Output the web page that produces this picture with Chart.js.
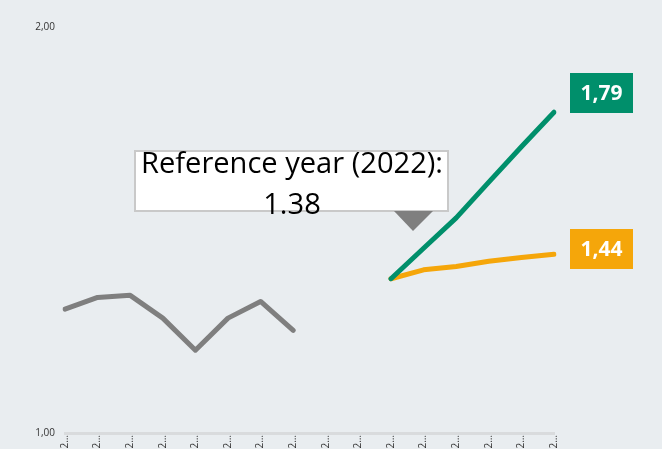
<!DOCTYPE html>
<html>
<head>
<meta charset="utf-8">
<script src="https://cdn.jsdelivr.net/npm/chart.js@4.4.1/dist/chart.umd.min.js"></script>
<style>
    html, body { margin: 0; padding: 0; background: #e9edf0; overflow: hidden; }
    #wrap { width: 662px; height: 449px; position: relative; }
</style>
</head>
<body>
<div id="wrap"><canvas id="chart"></canvas></div>
<script>
// Years on the x axis (shown truncated, as in the original)
const years = ['2012', '2013', '2014', '2015', '2016', '2017', '2018', '2019',
    '2020', '2021', '2022', '2023', '2024', '2025', '2026', '2027'];

// Historical values
const historical = [1.305, 1.334, 1.339, 1.283, 1.204, 1.283, 1.324, 1.253,
    null, null, null, null, null, null, null, null];

// Projections from the reference year
const projectionHigh = [null, null, null, null, null, null, null, null,
    null, null, 1.38, 1.455, 1.53, 1.618, 1.705, 1.79];
const projectionLow = [null, null, null, null, null, null, null, null,
    null, null, 1.38, 1.402, 1.41, 1.423, 1.432, 1.44];

const yTicks = [1, 2];
const referenceYear = '2022';
const referenceValue = 1.38;

const GREEN = '#008f6b';
const ORANGE = '#f5a60a';
const GREY = '#7f7f7f';

const fmt = v => v.toFixed(2).replace('.', ',');

// Draws the reference-year callout and the end value labels
const calloutPlugin = {
    id: 'callouts',
    afterDraw(chart) {
        const ctx = chart.ctx;
        const x = chart.scales.x;

        // Reference year box
        const refX = x.getPixelForValue(years.indexOf(referenceYear));
        ctx.save();
        ctx.fillStyle = '#ffffff';
        ctx.strokeStyle = '#c9c9c9';
        ctx.lineWidth = 2;
        ctx.fillRect(135, 151, 313, 60);
        ctx.strokeRect(135, 151, 313, 60);

        ctx.fillStyle = GREY;
        ctx.beginPath();
        ctx.moveTo(refX + 3, 211);
        ctx.lineTo(refX + 42, 211);
        ctx.lineTo(refX + 22, 231);
        ctx.closePath();
        ctx.fill();

        ctx.fillStyle = '#000000';
        ctx.font = '30px "Open Sans", "Liberation Sans", sans-serif';
        ctx.textAlign = 'center';
        ctx.textBaseline = 'alphabetic';
        const line1 = 'Reference year (' + referenceYear + '):';
        // squeeze horizontally to the narrow look of the original font
        const w = ctx.measureText(line1).width;
        const sx = Math.min(1, 302 / w);
        ctx.save();
        ctx.translate(292, 0);
        ctx.scale(sx, 1);
        ctx.fillText(line1, 0, 173);
        ctx.fillText(String(referenceValue), 0, 214);
        ctx.restore();

        // End value labels
        const last = years.length - 1;
        const labels = [
            { v: projectionHigh[last], color: GREEN, top: 73 },
            { v: projectionLow[last], color: ORANGE, top: 229 },
        ];
        const lx = x.getPixelForValue(last) + 16;
        ctx.font = 'bold 21px "Open Sans", "Liberation Sans", sans-serif';
        ctx.textBaseline = 'middle';
        labels.forEach(l => {
            ctx.fillStyle = l.color;
            ctx.fillRect(lx, l.top, 63, 40);
            ctx.fillStyle = '#ffffff';
            ctx.fillText(fmt(l.v), lx + 31.5, l.top + 21);
        });
        ctx.restore();
    },
};

const lineStyle = {
    borderWidth: 5,
    pointRadius: 0,
    tension: 0,
    spanGaps: false,
    borderCapStyle: 'round',
    borderJoinStyle: 'round',
};

new Chart(document.getElementById('chart'), {
    type: 'line',
    data: {
        labels: years,
        datasets: [
            { ...lineStyle, label: 'High', data: projectionHigh, borderColor: GREEN },
            { ...lineStyle, label: 'Low', data: projectionLow, borderColor: ORANGE },
            { ...lineStyle, label: 'Historical', data: historical, borderColor: GREY },
        ],
    },
    options: {
        responsive: true,
        maintainAspectRatio: false,
        animation: false,
        layout: { padding: { top: 27, right: 108, left: 0, bottom: 0 } },
        plugins: {
            legend: { display: false },
            tooltip: { enabled: false },
        },
        scales: {
            x: {
                offset: false,
                grid: { display: false, drawTicks: false },
                border: { display: true, color: '#d9dbdd', width: 3 },
                ticks: {
                    autoSkip: false,
                    maxRotation: 90,
                    minRotation: 90,
                    padding: 2,
                    color: '#333333',
                    font: { size: 10, family: '"Open Sans", "Liberation Sans", sans-serif' },
                    callback: (v, i) => years[i].charAt(0) + '…',
                },
                afterFit: scale => { scale.height = 15; },
            },
            y: {
                min: yTicks[0],
                max: yTicks[yTicks.length - 1],
                afterBuildTicks: scale => { scale.ticks = yTicks.map(v => ({ value: v })); },
                grid: { display: false, drawTicks: false },
                border: { display: false },
                ticks: {
                    padding: 10,
                    color: '#333333',
                    font: { size: 10, family: '"Open Sans", "Liberation Sans", sans-serif' },
                    callback: v => fmt(v),
                },
                afterFit: scale => { scale.width = 65; },
            },
        },
    },
    plugins: [calloutPlugin],
});
</script>
</body>
</html>
